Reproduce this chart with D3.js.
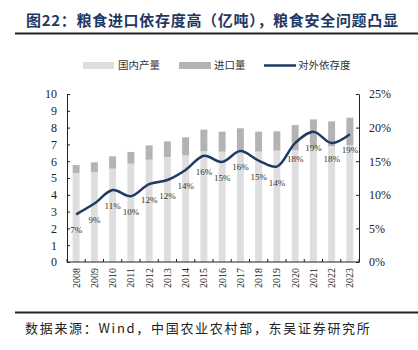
<!DOCTYPE html>
<html>
<head>
<meta charset="utf-8">
<script src="https://cdn.jsdelivr.net/npm/d3@7"></script>
<style>
  body { margin: 0; background: #fff; }
  svg { display: block; }
</style>
</head>
<body>
<svg id="drawing_region"></svg>
<script>
const years = ["2008","2009","2010","2011","2012","2013","2014","2015","2016","2017","2018","2019","2020","2021","2022","2023"];
const domestic = [5.30, 5.36, 5.56, 5.85, 6.09, 6.25, 6.35, 6.59, 6.57, 6.60, 6.57, 6.63, 6.67, 6.83, 6.90, 6.95];
const total = [5.77, 5.93, 6.29, 6.55, 6.94, 7.18, 7.42, 7.88, 7.76, 7.96, 7.76, 7.78, 8.15, 8.49, 8.37, 8.59];
const dependence = [7.1, 8.7, 10.7, 9.8, 11.6, 12.2, 13.7, 15.8, 14.9, 16.5, 15.1, 14.2, 17.7, 19.4, 17.7, 19.0];
const depLabels = ["7%","9%","11%","10%","12%","12%","14%","16%","15%","16%","15%","14%","18%","19%","18%","19%"];
const leftTicks = [0,1,2,3,4,5,6,7,8,9,10];
const rightTicks = [0,5,10,15,20,25];

const data = years.map((y, i) => ({
  year: y,
  domestic: domestic[i],
  imports: total[i] - domestic[i],
  total: total[i],
  dep: dependence[i],
  label: depLabels[i]
}));

const config = {
  width: 418,
  height: 350,
  margin: {top: 94, right: 59, bottom: 88, left: 67}
};
const serif = '"Liberation Serif", "DejaVu Serif", serif';
const cjk = '"Noto Sans CJK SC", sans-serif';
const colDomestic = '#dedede';
const colImport = '#b3b3b3';
const colLine = '#1f3b63';

const svg = d3.select('#drawing_region')
  .attr('width', config.width)
  .attr('height', config.height);

const innerW = config.width - config.margin.left - config.margin.right;
const innerH = config.height - config.margin.top - config.margin.bottom;

const chart = svg.append('g')
  .attr('transform', `translate(${config.margin.left}, ${config.margin.top})`);

// title
svg.append('text')
  .attr('x', 26).attr('y', 26)
  .attr('font-family', cjk)
  .attr('font-weight', 'bold')
  .attr('font-size', '15px')
  .attr('letter-spacing', '0.7px')
  .attr('fill', '#1f3864')
  .text('图22：粮食进口依存度高（亿吨），粮食安全问题凸显');

svg.append('line')
  .attr('x1', 15).attr('x2', 418).attr('y1', 33.5).attr('y2', 33.5)
  .attr('stroke', '#222').attr('stroke-width', 2);

// legend
const legend = svg.append('g').attr('font-family', cjk).attr('font-size', '10.5px').attr('fill', '#333');
legend.append('rect').attr('x', 83).attr('y', 62).attr('width', 31).attr('height', 7).attr('fill', colDomestic);
legend.append('text').attr('x', 118).attr('y', 69).text('国内产量');
legend.append('rect').attr('x', 179).attr('y', 62).attr('width', 32).attr('height', 7).attr('fill', colImport);
legend.append('text').attr('x', 214).attr('y', 69).text('进口量');
legend.append('line').attr('x1', 264).attr('x2', 296).attr('y1', 65.5).attr('y2', 65.5)
  .attr('stroke', colLine).attr('stroke-width', 2.5);
legend.append('text').attr('x', 298).attr('y', 69).text('对外依存度');

// scales
const xscale = d3.scaleBand()
  .domain(years)
  .range([0, innerW])
  .paddingInner(0.62)
  .paddingOuter(0.31);

const yscale = d3.scaleLinear().domain([0, 10]).range([innerH, 0]);
const y2scale = d3.scaleLinear().domain([0, 25]).range([innerH, 0]);

// bars
chart.selectAll('rect.dom')
  .data(data).enter().append('rect')
  .attr('class', 'dom')
  .attr('x', d => xscale(d.year))
  .attr('y', d => yscale(d.domestic))
  .attr('width', xscale.bandwidth())
  .attr('height', d => innerH - yscale(d.domestic))
  .attr('fill', colDomestic);

chart.selectAll('rect.imp')
  .data(data).enter().append('rect')
  .attr('class', 'imp')
  .attr('x', d => xscale(d.year))
  .attr('y', d => yscale(d.total))
  .attr('width', xscale.bandwidth())
  .attr('height', d => yscale(d.domestic) - yscale(d.total))
  .attr('fill', colImport);

// axes
const yaxis = d3.axisLeft(yscale).tickValues(leftTicks).tickSizeInner(-3).tickSizeOuter(0).tickPadding(10);
const y2axis = d3.axisRight(y2scale).tickValues(rightTicks).tickFormat(d => d + '%').tickSizeInner(-3).tickSizeOuter(0).tickPadding(10);

const yg = chart.append('g').call(yaxis);
const y2g = chart.append('g').attr('transform', `translate(${innerW}, 0)`).call(y2axis);
[yg, y2g].forEach(g => {
  g.selectAll('text').attr('font-family', serif).attr('font-size', '12px').attr('fill', '#222');
  g.selectAll('line, path').attr('stroke', '#222');
});

// x axis: baseline + inward ticks at category boundaries
const xg = chart.append('g').attr('transform', `translate(0, ${innerH})`);
xg.append('line').attr('x1', 0).attr('x2', innerW).attr('stroke', '#222');
const step = xscale.step();
xg.selectAll('line.tick')
  .data(d3.range(years.length + 1))
  .enter().append('line')
  .attr('class', 'tick')
  .attr('x1', i => i * step).attr('x2', i => i * step)
  .attr('y1', 0).attr('y2', -3)
  .attr('stroke', '#222');
xg.selectAll('text')
  .data(years).enter().append('text')
  .attr('transform', d => `translate(${xscale(d) + xscale.bandwidth() / 2 + 3.5}, 6) rotate(-90)`)
  .attr('text-anchor', 'end')
  .attr('font-family', serif)
  .attr('font-size', '10px')
  .attr('fill', '#222')
  .text(d => d);

// dependence line
const line = d3.line()
  .x(d => xscale(d.year) + xscale.bandwidth() / 2)
  .y(d => y2scale(d.dep))
  .curve(d3.curveCatmullRom.alpha(0.5));

chart.append('path')
  .datum(data)
  .attr('d', line)
  .attr('fill', 'none')
  .attr('stroke', colLine)
  .attr('stroke-width', 2.5);

chart.selectAll('text.lab')
  .data(data).enter().append('text')
  .attr('class', 'lab')
  .attr('x', d => xscale(d.year) + xscale.bandwidth() / 2)
  .attr('y', d => y2scale(d.dep) + 19)
  .attr('text-anchor', 'middle')
  .attr('font-family', serif)
  .attr('font-size', '9px')
  .attr('fill', '#333')
  .text(d => d.label);

// source
svg.append('line')
  .attr('x1', 15).attr('x2', 418).attr('y1', 312.5).attr('y2', 312.5)
  .attr('stroke', '#222').attr('stroke-width', 2);

svg.append('text')
  .attr('x', 25).attr('y', 333)
  .attr('font-family', cjk)
  .attr('font-size', '13px')
  .attr('letter-spacing', '1.7px')
  .attr('fill', '#222')
  .text('数据来源：Wind，中国农业农村部，东吴证券研究所');
</script>
</body>
</html>
